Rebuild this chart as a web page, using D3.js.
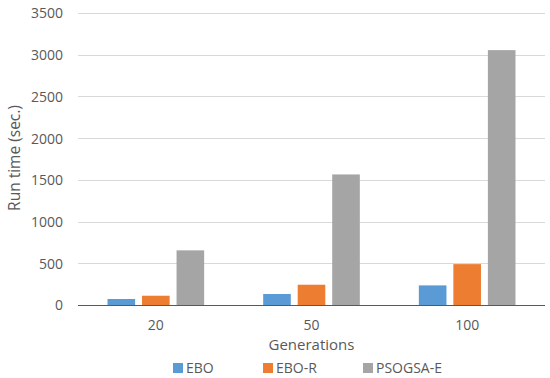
<!DOCTYPE html>
<html>
<head>
<meta charset="utf-8">
<script src="https://cdn.jsdelivr.net/npm/d3@7"></script>
<style>
  body { margin: 0; background: #fff; }
  text { font-family: "Open Sans", "Liberation Sans", sans-serif; fill: #595959; }
</style>
</head>
<body>
<script>
var generations = ["20", "50", "100"];
var seriesNames = ["EBO", "EBO-R", "PSOGSA-E"];
var ebo = [72, 132, 235];
var eboR = [111, 243, 490];
var psogsaE = [655, 1565, 3055];
var yTicks = [0, 500, 1000, 1500, 2000, 2500, 3000, 3500];
var colors = ["#5B9BD5", "#ED7D31", "#A5A5A5"];

var width = 550;
var height = 378;
var plotLeft = 78, plotRight = 545, plotTop = 13, plotBottom = 305;

var seriesValues = [ebo, eboR, psogsaE];

var svg = d3.select("body").append("svg")
            .attr("width", width)
            .attr("height", height);

var x = d3.scaleBand().domain(generations).range([plotLeft, plotRight]).paddingInner(0).paddingOuter(0);
var x1 = d3.scaleBand().domain(seriesNames).range([0, x.bandwidth()]).paddingInner(0.2).paddingOuter(0.855);
var y = d3.scaleLinear().domain([0, 3500]).range([plotBottom, plotTop]);

// gridlines
svg.append("g").selectAll("line")
   .data(yTicks.slice(1))
   .enter().append("line")
   .attr("x1", plotLeft).attr("x2", plotRight)
   .attr("y1", function(d){ return Math.round(y(d)) + 0.5; })
   .attr("y2", function(d){ return Math.round(y(d)) + 0.5; })
   .attr("stroke", "#d9d9d9").attr("stroke-width", 1);

// y tick labels
var yAxis = svg.append("g")
   .attr("transform", "translate(" + (plotLeft - 15) + ",0)")
   .call(d3.axisLeft(y).tickValues(yTicks).tickSize(0).tickPadding(0).tickFormat(d3.format("d")));
yAxis.select(".domain").remove();
yAxis.selectAll("text").style("font-size", "14px").attr("dy", "0.35em");

// bars
seriesNames.forEach(function(name, i){
  svg.append("g").selectAll("rect")
     .data(seriesValues[i])
     .enter().append("rect")
     .attr("x", function(d, j){ return x(generations[j]) + x1(name); })
     .attr("width", x1.bandwidth())
     .attr("y", function(d){ return y(d); })
     .attr("height", function(d){ return plotBottom - y(d); })
     .attr("fill", colors[i]);
});

// x axis line
svg.append("line")
   .attr("x1", plotLeft).attr("x2", plotRight)
   .attr("y1", plotBottom + 0.5).attr("y2", plotBottom + 0.5)
   .attr("stroke", "#595959").attr("stroke-width", 1);

// x tick labels
var xAxis = svg.append("g")
   .attr("transform", "translate(0," + (plotBottom + 15) + ")")
   .call(d3.axisBottom(x).tickSize(0).tickPadding(0));
xAxis.select(".domain").remove();
xAxis.selectAll("text").style("font-size", "14px").attr("dy", "0.35em").attr("y", 5);

// axis titles
svg.append("text")
   .attr("x", (plotLeft + plotRight) / 2).attr("y", 345)
   .attr("text-anchor", "middle").attr("dy", "0.35em")
   .style("font-size", "15px")
   .text("Generations");

svg.append("text")
   .attr("transform", "translate(15," + 158 + ") rotate(-90)")
   .attr("text-anchor", "middle").attr("dy", "0.35em")
   .style("font-size", "15.5px")
   .text("Run time (sec.)");

// legend
var legendX = [173, 263, 363];
var legend = svg.append("g").selectAll("g")
   .data(seriesNames)
   .enter().append("g")
   .attr("transform", function(d, i){ return "translate(" + legendX[i] + ",368)"; });
legend.append("rect")
   .attr("x", 0).attr("y", -5).attr("width", 10).attr("height", 10)
   .attr("fill", function(d, i){ return colors[i]; });
legend.append("text")
   .attr("x", 13).attr("dy", "0.35em")
   .style("font-size", "14px")
   .text(function(d){ return d; });
</script>
</body>
</html>
